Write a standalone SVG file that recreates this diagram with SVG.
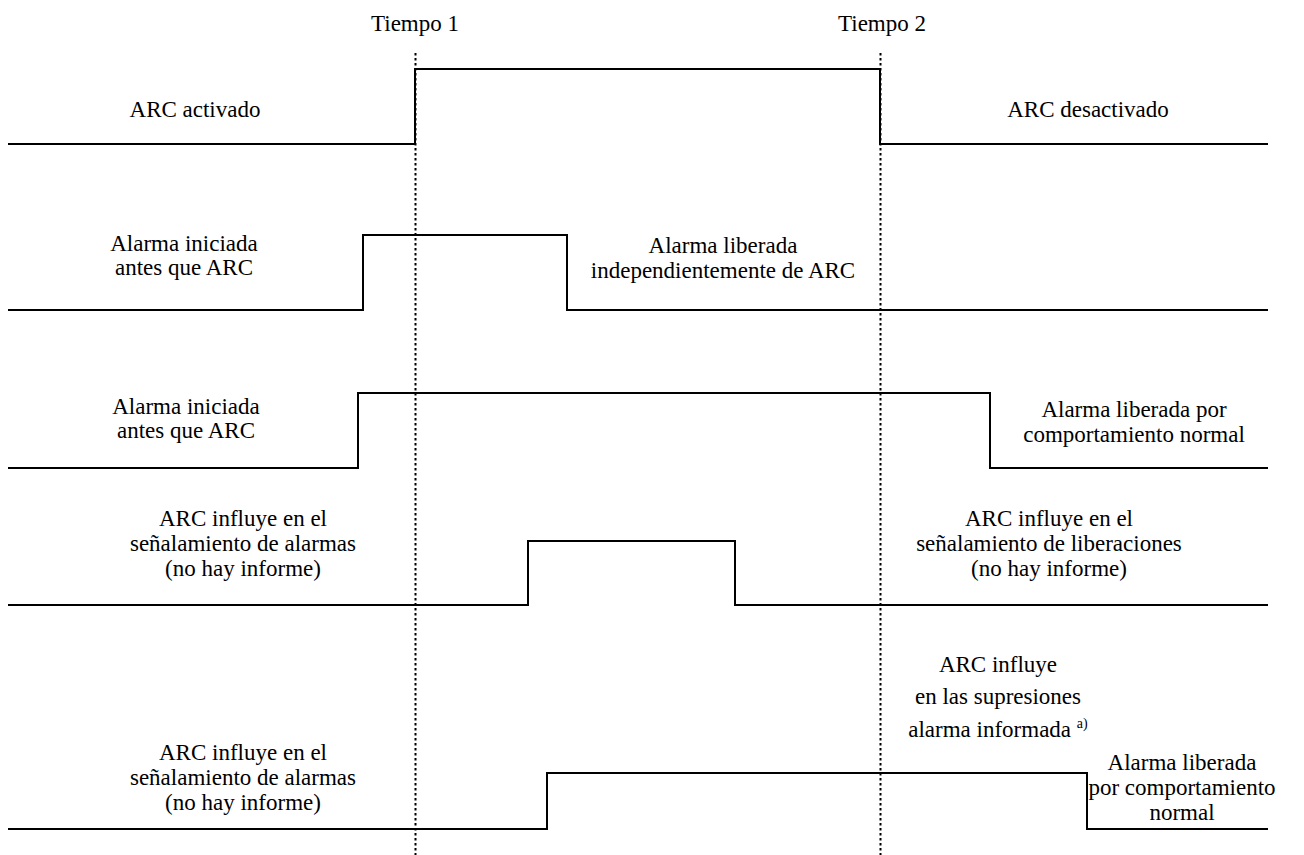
<svg xmlns="http://www.w3.org/2000/svg" width="1304" height="855" viewBox="0 0 1304 855">
<style>
text{font-size:23px;fill:#000;text-anchor:middle}
.sig{fill:none;stroke:#000;stroke-width:2}
.dot{fill:none;stroke:#000;stroke-width:2;stroke-dasharray:2.5 2.5}
</style>
<rect width="1304" height="855" fill="#fff"/>
<g font-family="Liberation Serif, Times New Roman, DejaVu Serif, serif">
<g id="time-markers">
<line class="dot" x1="415.5" y1="53" x2="415.5" y2="855"/>
<line class="dot" x1="880.5" y1="53" x2="880.5" y2="855"/>
<text x="415" y="31">Tiempo 1</text>
<text x="882" y="31">Tiempo 2</text>
</g>
<g id="row1">
<path class="sig" d="M8,144 H415 V69 H880 V144 H1268"/>
<text x="195" y="117">ARC activado</text>
<text x="1088" y="117">ARC desactivado</text>
</g>
<g id="row2">
<path class="sig" d="M8,310 H363 V235 H567 V310 H1268"/>
<text x="184" y="251">Alarma iniciada</text>
<text x="184" y="275">antes que ARC</text>
<text x="723" y="253">Alarma liberada</text>
<text x="723" y="278">independientemente de ARC</text>
</g>
<g id="row3">
<path class="sig" d="M8,468 H358 V393 H990 V468 H1268"/>
<text x="186" y="414">Alarma iniciada</text>
<text x="186" y="438">antes que ARC</text>
<text x="1134" y="417">Alarma liberada por</text>
<text x="1134" y="442">comportamiento normal</text>
</g>
<g id="row4">
<path class="sig" d="M8,605 H528 V541 H735 V605 H1268"/>
<text x="243" y="526">ARC influye en el</text>
<text x="243" y="551">señalamiento de alarmas</text>
<text x="243" y="576">(no hay informe)</text>
<text x="1049" y="526">ARC influye en el</text>
<text x="1049" y="551">señalamiento de liberaciones</text>
<text x="1049" y="576">(no hay informe)</text>
</g>
<g id="row5">
<path class="sig" d="M8,829 H547 V773 H1087 V829 H1268"/>
<text x="998" y="672">ARC influye</text>
<text x="998" y="704">en las supresiones</text>
<text x="998" y="737">alarma informada <tspan font-size="14" dy="-9">a)</tspan></text>
<text x="243" y="760">ARC influye en el</text>
<text x="243" y="785">señalamiento de alarmas</text>
<text x="243" y="810">(no hay informe)</text>
<text x="1182" y="770">Alarma liberada</text>
<text x="1182" y="795">por comportamiento</text>
<text x="1182" y="820">normal</text>
</g>
</g>
</svg>
